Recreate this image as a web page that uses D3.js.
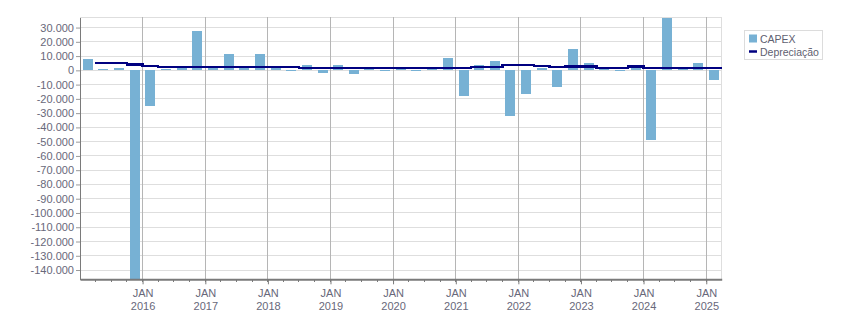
<!DOCTYPE html>
<html>
<head>
<meta charset="utf-8">
<script src="https://cdn.jsdelivr.net/npm/d3@7"></script>
<style>
  body { margin: 0; background: #fff; }
  svg { display: block; font-family: "Liberation Sans", Arial, sans-serif; }
</style>
</head>
<body>
<div id="chart"></div>
<script>
// quarters (start month of each quarter)
const quarters = [
  "2015-01", "2015-04", "2015-07", "2015-10",
  "2016-01", "2016-04", "2016-07", "2016-10",
  "2017-01", "2017-04", "2017-07", "2017-10",
  "2018-01", "2018-04", "2018-07", "2018-10",
  "2019-01", "2019-04", "2019-07", "2019-10",
  "2020-01", "2020-04", "2020-07", "2020-10",
  "2021-01", "2021-04", "2021-07", "2021-10",
  "2022-01", "2022-04", "2022-07", "2022-10",
  "2023-01", "2023-04", "2023-07", "2023-10",
  "2024-01", "2024-04", "2024-07", "2024-10",
  "2025-01"
]

const capex = [
  7900, 900, 1600, -146500,
  -25000, 900, 2000, 27500,
  2000, 11600, 2000, 11600,
  2000, -600, 3700, -2000,
  3700, -2600, 1200, -600,
  1200, -600, 1400, 8600,
  -18000, 3600, 6500, -32000,
  -16700, 1600, -11800, 14900,
  5000, 1200, -700, 1500,
  -48800, 36700, 1000, 5000,
  -6900
]

const depreciacao = [
  5300, 5300, 5300, 4200,
  3200, 2400, 2400, 2400,
  2400, 2400, 2400, 2400,
  2400, 2400, 1700, 1700,
  1700, 1700, 1700, 1700,
  1700, 1700, 1700, 1700,
  1700, 2500, 2500, 3600,
  3800, 3000, 2300, 2800,
  2700, 1800, 1800, 2800,
  1800, 1700, 1700, 1700,
  1700
]

const yTickValues = [
  -140000, -130000, -120000, -110000, -100000, -90000, -80000, -70000, -60000,
  -50000, -40000, -30000, -20000, -10000, 0, 10000, 20000, 30000
]
const yearTicks = ["2016", "2017", "2018", "2019", "2020", "2021", "2022", "2023", "2024", "2025"]
const seriesNames = ["CAPEX", "Depreciação"]

const width = 851
const height = 313
const marginLeft = 80
const marginRight = 129.3       // plot ends at x = 721.7
const marginTop = 17
const marginBottom = 33.7       // plot ends at y = 279.3

const barColor = "#77b1d4"
const lineColor = "#000080"
const textColor = "#68687a"

const parseMonth = d3.utcParse("%Y-%m")
const Q = quarters.map(parseMonth)
const qEnd = Q.map(d => d3.utcMonth.offset(d, 3))

const locale = d3.formatLocale({decimal: ",", thousands: ".", grouping: [3], currency: ["R$", ""], minus: "-"})
const yFormat = locale.format(",d")

const x = d3.scaleUtc([parseMonth("2015-01"), parseMonth("2025-04")], [marginLeft, width - marginRight])
const y = d3.scaleLinear([-146500, 37400], [height - marginBottom, marginTop])

const svg = d3.select("#chart")
  .append("svg")
  .attr("width", width)
  .attr("height", height)
  .attr("viewBox", [0, 0, width, height])

// horizontal grid
svg.append("g")
  .attr("stroke", "#dedede")
  .attr("shape-rendering", "crispEdges")
  .selectAll("line")
  .data(yTickValues.concat([y.domain()[1]]))
  .join("line")
  .attr("x1", marginLeft)
  .attr("x2", width - marginRight)
  .attr("y1", d => y(d))
  .attr("y2", d => y(d))

// right border
svg.append("line")
  .attr("x1", width - marginRight).attr("x2", width - marginRight)
  .attr("y1", marginTop).attr("y2", height - marginBottom)
  .attr("stroke", "#dedede")
  .attr("shape-rendering", "crispEdges")

// vertical year grid
const yearDates = yearTicks.map(yr => parseMonth(yr + "-01"))
svg.append("g")
  .attr("stroke", "#b5b5b5")
  .attr("shape-rendering", "crispEdges")
  .selectAll("line")
  .data(yearDates)
  .join("line")
  .attr("x1", d => x(d))
  .attr("x2", d => x(d))
  .attr("y1", marginTop)
  .attr("y2", height - marginBottom)

// CAPEX bars
const barWidth = 10
svg.append("g")
  .attr("fill", barColor)
  .attr("shape-rendering", "crispEdges")
  .selectAll("rect")
  .data(d3.range(quarters.length))
  .join("rect")
  .attr("x", i => (x(Q[i]) + x(qEnd[i])) / 2 - barWidth / 2)
  .attr("width", barWidth)
  .attr("y", i => y(Math.max(0, capex[i])))
  .attr("height", i => Math.abs(y(capex[i]) - y(0)))

// Depreciação step line (points at quarter end)
const line = d3.line()
  .curve(d3.curveStepBefore)
  .x(i => x(qEnd[i]))
  .y(i => y(depreciacao[i]))

svg.append("path")
  .attr("fill", "none")
  .attr("stroke", lineColor)
  .attr("stroke-width", 2.5)
  .attr("shape-rendering", "crispEdges")
  .attr("d", line(d3.range(quarters.length)))

// y axis
svg.append("g")
  .attr("transform", `translate(${marginLeft},0)`)
  .call(d3.axisLeft(y).tickValues(yTickValues).tickSize(4).tickSizeOuter(0).tickFormat(yFormat))
  .call(g => g.select(".domain").attr("stroke", "#7a7a7a").attr("shape-rendering", "crispEdges"))
  .call(g => g.selectAll(".tick line").attr("stroke", "#9a9a9a"))
  .call(g => g.selectAll(".tick text")
    .attr("x", -6)
    .attr("fill", textColor)
    .attr("font-size", 11)
    .attr("font-family", "'Liberation Sans', Arial, sans-serif"))

// x axis: quarter minor ticks
svg.append("g")
  .attr("stroke", "#7a7a7a")
  .attr("shape-rendering", "crispEdges")
  .selectAll("line")
  .data(Q.slice(1))
  .join("line")
  .attr("x1", d => x(d))
  .attr("x2", d => x(d))
  .attr("y1", height - marginBottom)
  .attr("y2", height - marginBottom + 3)

// x axis: years
svg.append("g")
  .attr("transform", `translate(0,${height - marginBottom})`)
  .call(d3.axisBottom(x).tickValues(yearDates).tickSize(5).tickSizeOuter(0).tickFormat(""))
  .call(g => g.select(".domain").attr("stroke", "#7a7a7a").attr("stroke-width", 2))
  .call(g => g.selectAll(".tick line").attr("stroke", "#7a7a7a"))
  .call(g => g.selectAll(".tick").each(function(d, i) {
    const t = d3.select(this).append("text")
      .attr("fill", textColor)
      .attr("font-size", 11)
      .attr("font-family", "'Liberation Sans', Arial, sans-serif")
      .attr("text-anchor", "middle")
    t.append("tspan").attr("x", 0).attr("y", 18).text("JAN")
    t.append("tspan").attr("x", 0).attr("y", 31).text(yearTicks[i])
  }))

// legend
const legend = svg.append("g").attr("transform", "translate(744.5,30.5)")
legend.append("rect")
  .attr("width", 78)
  .attr("height", 29)
  .attr("fill", "#fff")
  .attr("stroke", "#dcdcdc")
legend.append("rect")
  .attr("x", 4.5).attr("y", 4)
  .attr("width", 8).attr("height", 8)
  .attr("fill", barColor)
legend.append("line")
  .attr("x1", 4.5).attr("x2", 12.5)
  .attr("y1", 21).attr("y2", 21)
  .attr("stroke", lineColor)
  .attr("stroke-width", 2.5)
legend.selectAll("text")
  .data(seriesNames)
  .join("text")
  .attr("x", 15.5)
  .attr("y", (d, i) => 8.5 + i * 13.5)
  .attr("dy", "0.35em")
  .attr("fill", "#606070")
  .attr("font-size", 10.5)
  .text(d => d)
</script>
</body>
</html>
